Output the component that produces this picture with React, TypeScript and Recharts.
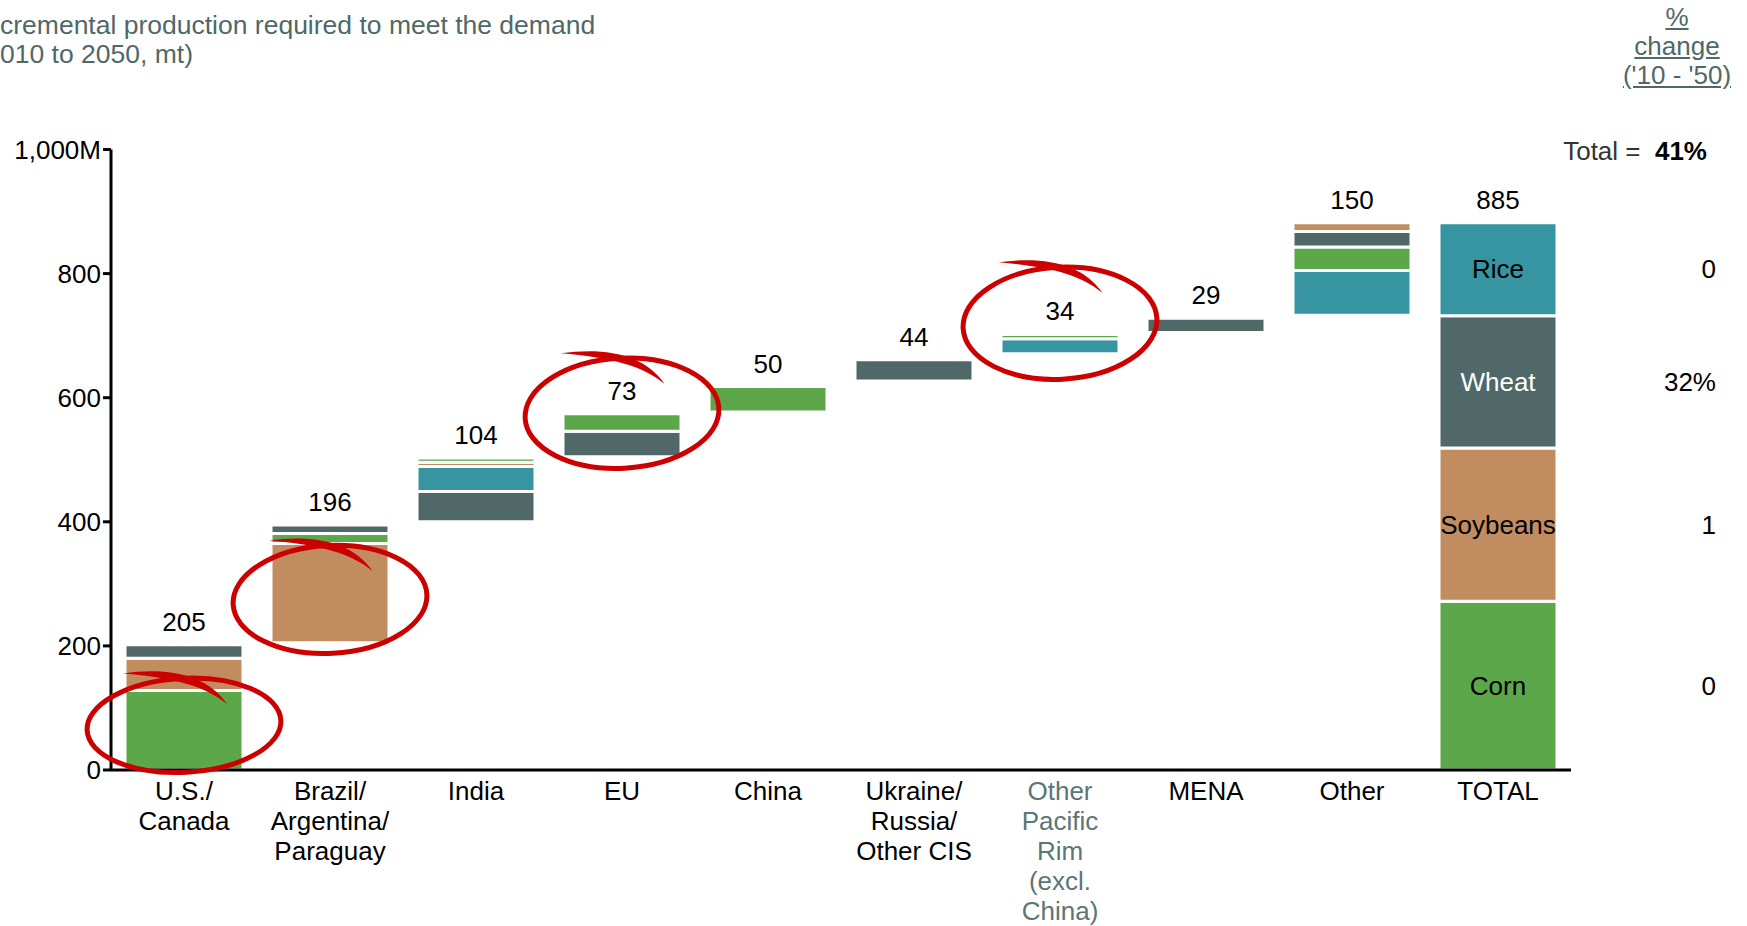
import React from "react";
import { ComposedChart, Bar, Line, XAxis, YAxis, Cell, LabelList, ReferenceDot } from "recharts";

// regions, bottom of each floating column and crop values (mt)
const categories = [
  "U.S./\nCanada",
  "Brazil/\nArgentina/\nParaguay",
  "India",
  "EU",
  "China",
  "Ukraine/\nRussia/\nOther CIS",
  "Other\nPacific\nRim\n(excl.\nChina)",
  "MENA",
  "Other",
  "TOTAL",
];
const bases = [0, 205, 400, 505, 577, 627, 671, 705, 733, 0];
const corn = [128, 16, 7, 28, 41, 0, 7, 0, 38, 272];
const soybeans = [52, 160, 7, 0, 0, 0, 0, 0, 14, 247];
const wheat = [22, 14, 49, 41, 0, 34, 0, 23, 25, 213];
const rice = [0, 0, 40, 0, 0, 0, 24, 0, 72, 150];
// bottom-up order of the segments in each column
const stackOrder = [
  ["corn", "soybeans", "wheat"],
  ["soybeans", "corn", "wheat"],
  ["wheat", "rice", "soybeans", "corn"],
  ["wheat", "corn"],
  ["corn"],
  ["wheat"],
  ["rice", "corn"],
  ["wheat"],
  ["rice", "corn", "wheat", "soybeans"],
  ["corn", "soybeans", "wheat", "rice"],
];
const totals = ["205", "196", "104", "73", "50", "44", "34", "29", "150", "885"];
const cropNames: Record<string, string> = { corn: "Corn", soybeans: "Soybeans", wheat: "Wheat", rice: "Rice" };
const pctChange: Record<string, string> = { corn: "0", soybeans: "1", wheat: "32%", rice: "0" };
const yTicks = [0, 200, 400, 600, 800, 1000];

// hand-drawn red circles: column index, centre value
const circled = [0, 1, 3, 6];
const circledAt = [72, 275, 575, 720];

const COLORS: Record<string, string> = {
  corn: "#5BA74A",
  soybeans: "#C28C61",
  wheat: "#506868",
  rice: "#3695A0",
};
const FONT = "'Liberation Sans', Arial, sans-serif";
const SEGS = [0, 1, 2, 3];

const cropValues: Record<string, number[]> = { corn, soybeans, wheat, rice };

const rows = categories.map((name, i) => {
  const row: any = { name, base: bases[i], label: totals[i] };
  let top = bases[i];
  SEGS.forEach((j) => {
    const c = stackOrder[i][j];
    const v = c ? cropValues[c][i] : 0;
    row[`s${j}`] = v;
    row[`c${j}`] = c;
    if (c && name === "TOTAL") {
      row[`n${j}`] = cropNames[c];
      row[`p${j}`] = pctChange[c];
    }
    top += v;
  });
  row.top = top;
  return row;
});

const XTick = ({ x, y, payload }: any) => {
  const lines = String(payload.value).split("\n");
  const muted = payload.value.startsWith("Other\nPacific");
  return (
    <text x={x} y={y} textAnchor="middle" fontSize={26} fill={muted ? "#5B7676" : "#000"}>
      {lines.map((l, i) => (
        <tspan key={i} x={x} dy={i === 0 ? 28 : 30}>
          {l}
        </tspan>
      ))}
    </text>
  );
};

const TopLabel = (props: any) => {
  const vb = props.viewBox ?? props;
  if (props.value == null) return null;
  return (
    <text x={vb.x} y={vb.y - 14} textAnchor="middle" fontSize={26} fill="#000">
      {props.value}
    </text>
  );
};

const InnerLabel = (props: any) => {
  const vb = props.viewBox ?? props;
  if (props.value == null) return null;
  return (
    <text
      x={vb.x + vb.width / 2}
      y={vb.y + vb.height / 2}
      dy="0.35em"
      textAnchor="middle"
      fontSize={26}
      fill={props.value === "Wheat" ? "#fff" : "#000"}
    >
      {props.value}
    </text>
  );
};

const PctLabel = (props: any) => {
  const vb = props.viewBox ?? props;
  if (props.value == null) return null;
  return (
    <text x={1716} y={vb.y + vb.height / 2} dy="0.35em" textAnchor="end" fontSize={26} fill="#000">
      {props.value}
    </text>
  );
};

const Circle = ({ cx, cy, ry }: any) => {
  const t = -ry;
  return (
    <g transform={`translate(${cx}, ${cy}) rotate(-3)`}>
      <ellipse rx={97} ry={ry} fill="none" stroke="#CC0000" strokeWidth={5} />
      <path
        d={`M -58 ${t - 8} C -12 ${t - 12} 26 ${t - 2} 44 ${t + 28} C 22 ${t + 8} -8 ${t - 1} -58 ${t - 8} Z`}
        fill="#CC0000"
      />
    </g>
  );
};

export default function App() {
  return (
    <div
      style={{
        position: "absolute",
        left: 0,
        top: 0,
        width: 1747,
        height: 926,
        background: "#fff",
        fontFamily: FONT,
        overflow: "hidden",
      }}
    >
      <div
        style={{
          position: "absolute",
          left: 0,
          top: 11,
          fontSize: 26.5,
          lineHeight: "29px",
          color: "#506868",
          whiteSpace: "pre",
        }}
      >
        {"cremental production required to meet the demand\n010 to 2050, mt)"}
      </div>
      <div
        style={{
          position: "absolute",
          left: 1577,
          top: 3,
          width: 200,
          fontSize: 26,
          lineHeight: "29px",
          color: "#506868",
          textAlign: "center",
        }}
      >
        {["%", "change", "('10 - '50)"].map((l) => (
          <div key={l} style={{ textDecoration: "underline" }}>
            {l}
          </div>
        ))}
      </div>
      <div
        style={{
          position: "absolute",
          right: 40,
          top: 137,
          fontSize: 26,
          lineHeight: "29px",
          color: "#333",
          whiteSpace: "pre",
        }}
      >
        {"Total =  "}
        <b style={{ color: "#000" }}>41%</b>
      </div>

      <ComposedChart
        width={1747}
        height={926}
        data={rows}
        margin={{ top: 149.5, right: 176, left: 0, bottom: 0 }}
        barSize={118}
        style={{ position: "absolute", left: 0, top: 0 }}
      >
        <XAxis
          dataKey="name"
          height={156}
          interval={0}
          tickLine={false}
          tickSize={0}
          axisLine={{ stroke: "#000", strokeWidth: 3 }}
          tick={<XTick />}
        />
        <YAxis
          domain={[0, 1000]}
          ticks={yTicks}
          width={111}
          interval={0}
          tickSize={8}
          tickFormatter={(v: number) => (v === 1000 ? "1,000M" : String(v))}
          tick={{ fill: "#000", fontSize: 26 }}
          axisLine={{ stroke: "#000", strokeWidth: 3 }}
          tickLine={{ stroke: "#000", strokeWidth: 3 }}
        />
        <Bar dataKey="base" stackId="a" fill="transparent" isAnimationActive={false} />
        {SEGS.map((j) => (
          <Bar key={j} dataKey={`s${j}`} stackId="a" stroke="#fff" strokeWidth={3} isAnimationActive={false}>
            {rows.map((r, i) => (
              <Cell key={i} fill={COLORS[r[`c${j}`]] ?? "transparent"} />
            ))}
            <LabelList dataKey={`n${j}`} content={InnerLabel} />
            <LabelList dataKey={`p${j}`} content={PctLabel} />
          </Bar>
        ))}
        <Line
          dataKey="top"
          stroke="none"
          dot={false}
          activeDot={false}
          legendType="none"
          isAnimationActive={false}
        >
          <LabelList dataKey="label" content={TopLabel} />
        </Line>
        {circled.map((ci, k) => (
          <ReferenceDot
            key={ci}
            x={categories[ci]}
            y={circledAt[k]}
            ifOverflow="visible"
            shape={(p: any) => <Circle cx={p.cx} cy={p.cy} ry={[47, 54, 55, 56][k]} />}
          />
        ))}
      </ComposedChart>
    </div>
  );
}
